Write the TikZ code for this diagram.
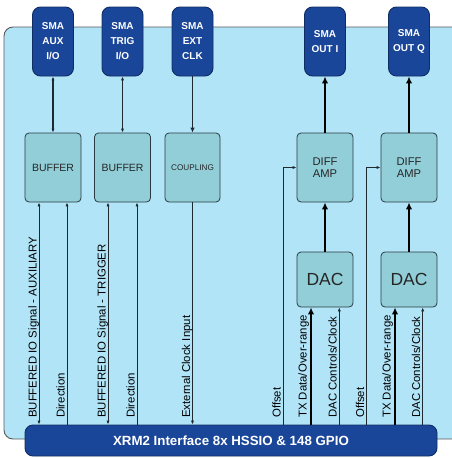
\documentclass[tikz,border=0pt]{standalone}
\usepackage{fontspec}
\setmainfont{Liberation Sans}
\usetikzlibrary{arrows.meta}
\definecolor{panelblue}{HTML}{B2E4F8}
\definecolor{tealbox}{HTML}{92CED8}
\definecolor{darkblue}{HTML}{1A4699}
\definecolor{darkborder}{HTML}{0F2D63}
\definecolor{boxline}{HTML}{2A3A40}
\definecolor{wire}{HTML}{1E2A30}
\tikzset{
  sma/.style={draw=darkborder, line width=0.9pt, fill=darkblue, rounded corners=8pt,
    minimum width=41pt, minimum height=69pt, inner sep=0pt, text=white,
    font=\fontsize{10}{15}\selectfont\bfseries, align=center},
  blk/.style={draw=boxline, line width=0.8pt, fill=tealbox, rounded corners=4pt,
    minimum width=56pt, minimum height=69pt, inner sep=0pt, text=black!85,
    align=center},
  lbl/.style={rotate=90, anchor=base west, inner sep=0pt,
    font=\fontsize{11.4}{12}\selectfont},
  thinw/.style={draw=wire, line width=1.0pt, -{Latex[length=4pt,width=3.2pt]}},
  thinboth/.style={draw=wire, line width=1.0pt, {Latex[length=4pt,width=3.2pt]}-{Latex[length=4pt,width=3.2pt]}},
  medw/.style={draw=wire, line width=1.3pt, -{Latex[length=5pt,width=4.5pt]}},
  thickw/.style={draw=black, line width=2.4pt, -{Latex[length=7pt,width=6.5pt]}},
}
\begin{document}
\begin{tikzpicture}[x=1pt,y=-1pt]
\useasboundingbox (0,0) rectangle (452,458);
\clip (0,0) rectangle (452,458);
% main panel
\draw[fill=panelblue, draw=black!65, line width=0.9pt, rounded corners=9pt] (4,27) rectangle (475,439);
% SMA connectors
\node[sma] (smaAux) at (53,41.5) {SMA\\AUX\\I/O};
\node[sma] (smaTrig) at (122.5,41.5) {SMA\\TRIG\\I/O};
\node[sma] (smaClk) at (192.5,41.5) {SMA\\EXT\\CLK};
\node[sma] (smaI) at (325,41.5) {SMA\\OUT I};
\node[sma] (smaQ) at (409,41.5) {SMA\\OUT Q};
% blocks
\node[blk, font=\fontsize{10.5}{12}\selectfont] (buf1) at (53,167.5) {BUFFER};
\node[blk, font=\fontsize{10.5}{12}\selectfont] (buf2) at (122.5,167.5) {BUFFER};
\node[blk, minimum width=55pt, font=\fontsize{8.2}{10}\selectfont] (coup) at (192.5,167.5) {COUPLING};
\node[blk, font=\fontsize{11.2}{11.5}\selectfont] (diff1) at (325,167.5) {DIFF\\AMP};
\node[blk, font=\fontsize{11.2}{11.5}\selectfont] (diff2) at (409,167.5) {DIFF\\AMP};
\node[blk, minimum height=55pt, font=\fontsize{17.5}{18}\selectfont] (dac1) at (325,279.5) {DAC};
\node[blk, minimum height=55pt, font=\fontsize{17.5}{18}\selectfont] (dac2) at (409,279.5) {DAC};
% interface bar
\node[draw=darkborder, line width=0.9pt, fill=darkblue, rounded corners=8pt,
  minimum width=412pt, minimum height=31pt, inner sep=0pt, text=white,
  font=\fontsize{13.3}{14}\selectfont\bfseries] (bar) at (231,440.5)
  {XRM2 Interface 8x HSSIO \& 148 GPIO};
% wire positions
\coordinate (a1) at (39,0);
\coordinate (a2) at (67,0);
\coordinate (t1) at (108,0);
\coordinate (t2) at (137,0);
\coordinate (o1) at (283.3,0);
\coordinate (x1) at (311,0);
\coordinate (c1) at (339.3,0);
\coordinate (o2) at (366.7,0);
\coordinate (x2) at (395,0);
\coordinate (c2) at (422.7,0);
% top connectors
\draw[thinboth, line width=1.3pt] (smaAux.south) -- (buf1.north);
\draw[thinboth, line width=1.3pt] (smaTrig.south) -- (buf2.north);
\draw[medw] (smaClk.south) -- (coup.north);
\draw[thickw] (diff1.north) -- (smaI.south);
\draw[thickw] (diff2.north) -- (smaQ.south);
\draw[thickw] (dac1.north) -- (diff1.south);
\draw[thickw] (dac2.north) -- (diff2.south);
% bottom connectors
\draw[thinboth] (bar.north -| a1) -- (buf1.south -| a1);
\draw[thinw] (bar.north -| a2) -- (buf1.south -| a2);
\draw[thinboth] (bar.north -| t1) -- (buf2.south -| t1);
\draw[thinw] (bar.north -| t2) -- (buf2.south -| t2);
\draw[thinw, line width=1.2pt] (coup.south) -- (bar.north -| coup.south);
\draw[thinw] (bar.north -| o1) |- (diff1.west);
\draw[thinw] (bar.north -| o2) |- (diff2.west);
\draw[thickw] (bar.north -| x1) -- (dac1.south -| x1);
\draw[thickw] (bar.north -| x2) -- (dac2.south -| x2);
\draw[thinw] (bar.north -| c1) -- (dac1.south -| c1);
\draw[thinw] (bar.north -| c2) -- (dac2.south -| c2);
% labels
\node[lbl] (la1) at (36.5,418) {BUFFERED IO Signal - AUXILIARY};
\node[lbl] (la2) at (64.5,418) {Direction};
\node[lbl] (lt1) at (105.5,418) {BUFFERED IO Signal - TRIGGER};
\node[lbl] (lt2) at (134.5,418) {Direction};
\node[lbl] (lc) at (190,418) {External Clock Input};
\node[lbl] (lo1) at (280.5,418) {Offset};
\node[lbl] (lx1) at (306.5,418) {TX Data/Over-range};
\node[lbl] (lcc1) at (336.5,418) {DAC Controls/Clock};
\node[lbl] (lo2) at (364,418) {Offset};
\node[lbl] (lx2) at (390.5,418) {TX Data/Over-range};
\node[lbl] (lcc2) at (420,418) {DAC Controls/Clock};
\end{tikzpicture}
\end{document}
